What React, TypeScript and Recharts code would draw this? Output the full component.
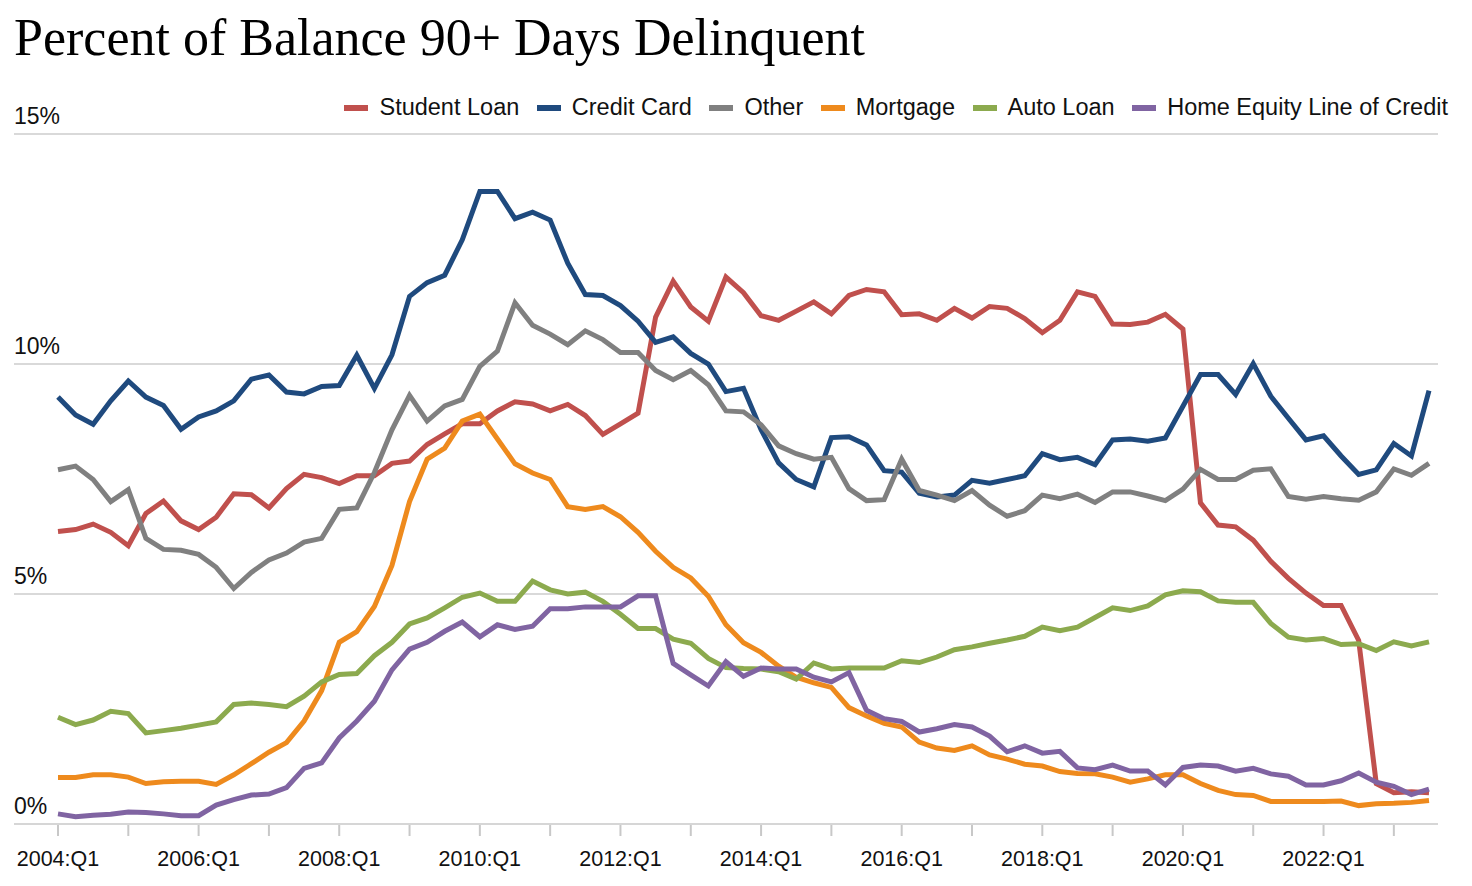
import React from 'react';
import { LineChart, Line, XAxis, YAxis, CartesianGrid } from 'recharts';

// Categories: 2004:Q1 .. 2023:Q3
const allQuarters: string[] = [];
for (let y = 2004; y <= 2023; y++) {
  for (let q = 1; q <= 4; q++) allQuarters.push(`${y}:Q${q}`);
}
const quarters = allQuarters.slice(0, 79);

const tickQuarters = quarters.filter((q) => q.endsWith(':Q1'));
const xLabels = ['2004:Q1', '2006:Q1', '2008:Q1', '2010:Q1', '2012:Q1', '2014:Q1', '2016:Q1', '2018:Q1', '2020:Q1', '2022:Q1'];
const yTicks = [0, 5, 10, 15];

const studentLoan = [
  6.36, 6.40, 6.52, 6.34, 6.05, 6.75, 7.02, 6.59, 6.40, 6.67,
  7.18, 7.16, 6.87, 7.29, 7.60, 7.53, 7.40, 7.57, 7.57, 7.84,
  7.89, 8.25, 8.48, 8.70, 8.70, 8.98, 9.18, 9.13, 8.98, 9.12,
  8.88, 8.47, 8.70, 8.93, 11.02, 11.80, 11.24, 10.93, 11.89, 11.55,
  11.05, 10.95, 11.15, 11.35, 11.09, 11.49, 11.62, 11.57, 11.07, 11.09,
  10.95, 11.21, 11.00, 11.25, 11.21, 10.99, 10.68, 10.95, 11.57, 11.47,
  10.87, 10.86, 10.91, 11.08, 10.76, 6.98, 6.50, 6.46, 6.17, 5.71,
  5.34, 5.02, 4.75, 4.75, 3.99, 0.88, 0.68, 0.70, 0.68,
];

const creditCard = [
  9.28, 8.89, 8.69, 9.20, 9.63, 9.28, 9.10, 8.58, 8.85, 8.98,
  9.20, 9.67, 9.76, 9.39, 9.35, 9.51, 9.53, 10.19, 9.47, 10.20,
  11.47, 11.77, 11.93, 12.70, 13.75, 13.75, 13.16, 13.30, 13.13, 12.19,
  11.51, 11.49, 11.27, 10.93, 10.47, 10.59, 10.23, 10.00, 9.40, 9.47,
  8.57, 7.85, 7.49, 7.33, 8.40, 8.42, 8.24, 7.68, 7.65, 7.19,
  7.11, 7.15, 7.47, 7.41, 7.49, 7.57, 8.05, 7.92, 7.97, 7.81,
  8.35, 8.37, 8.32, 8.39, 9.08, 9.77, 9.77, 9.34, 10.01, 9.30,
  8.82, 8.35, 8.44, 8.00, 7.60, 7.70, 8.27, 8.00, 9.42,
];

const other = [
  7.70, 7.78, 7.49, 7.01, 7.27, 6.21, 5.97, 5.95, 5.86, 5.58,
  5.12, 5.47, 5.74, 5.89, 6.13, 6.21, 6.84, 6.87, 7.64, 8.57,
  9.32, 8.76, 9.09, 9.23, 9.95, 10.28, 11.33, 10.84, 10.65, 10.42,
  10.72, 10.53, 10.25, 10.25, 9.86, 9.66, 9.86, 9.55, 8.98, 8.96,
  8.68, 8.22, 8.05, 7.93, 7.97, 7.29, 7.03, 7.05, 7.93, 7.25,
  7.15, 7.03, 7.25, 6.93, 6.69, 6.81, 7.15, 7.07, 7.17, 6.99,
  7.22, 7.22, 7.13, 7.03, 7.28, 7.71, 7.49, 7.49, 7.69, 7.72,
  7.12, 7.06, 7.12, 7.07, 7.04, 7.22, 7.72, 7.58, 7.84,
];

const mortgage = [
  1.01, 1.01, 1.07, 1.07, 1.02, 0.88, 0.92, 0.93, 0.93, 0.86,
  1.07, 1.31, 1.56, 1.77, 2.24, 2.90, 3.95, 4.18, 4.73, 5.62,
  7.01, 7.93, 8.17, 8.76, 8.91, 8.37, 7.83, 7.63, 7.49, 6.90,
  6.84, 6.90, 6.68, 6.34, 5.93, 5.58, 5.35, 4.95, 4.33, 3.94,
  3.73, 3.43, 3.19, 3.07, 2.97, 2.53, 2.35, 2.19, 2.11, 1.78,
  1.65, 1.60, 1.70, 1.50, 1.41, 1.30, 1.26, 1.14, 1.10, 1.09,
  1.02, 0.91, 0.98, 1.07, 1.07, 0.88, 0.73, 0.64, 0.62, 0.49,
  0.49, 0.49, 0.49, 0.50, 0.40, 0.44, 0.45, 0.47, 0.51,
];

const autoLoan = [
  2.32, 2.16, 2.26, 2.45, 2.40, 1.98, 2.03, 2.08, 2.15, 2.22,
  2.60, 2.63, 2.60, 2.55, 2.78, 3.09, 3.25, 3.27, 3.66, 3.95,
  4.35, 4.48, 4.70, 4.93, 5.02, 4.84, 4.84, 5.28, 5.09, 5.00,
  5.04, 4.84, 4.56, 4.25, 4.25, 4.02, 3.93, 3.60, 3.40, 3.38,
  3.37, 3.31, 3.15, 3.50, 3.37, 3.39, 3.39, 3.39, 3.55, 3.51,
  3.63, 3.79, 3.85, 3.93, 4.00, 4.08, 4.28, 4.20, 4.28, 4.49,
  4.70, 4.64, 4.74, 4.98, 5.07, 5.05, 4.85, 4.82, 4.82, 4.36,
  4.06, 4.00, 4.03, 3.90, 3.92, 3.77, 3.96, 3.87, 3.96,
];

const heloc = [
  0.22, 0.16, 0.19, 0.21, 0.26, 0.25, 0.22, 0.18, 0.18, 0.41,
  0.53, 0.63, 0.65, 0.79, 1.21, 1.33, 1.87, 2.24, 2.67, 3.35,
  3.80, 3.95, 4.19, 4.39, 4.07, 4.33, 4.23, 4.30, 4.68, 4.68,
  4.72, 4.72, 4.72, 4.96, 4.96, 3.49, 3.24, 3.00, 3.53, 3.21,
  3.39, 3.37, 3.37, 3.19, 3.09, 3.29, 2.47, 2.29, 2.23, 2.00,
  2.07, 2.16, 2.11, 1.91, 1.57, 1.70, 1.54, 1.58, 1.22, 1.18,
  1.28, 1.15, 1.15, 0.85, 1.23, 1.28, 1.26, 1.15, 1.21, 1.09,
  1.04, 0.85, 0.85, 0.94, 1.11, 0.91, 0.82, 0.64, 0.76,
];

const seriesNames = ['Student Loan', 'Credit Card', 'Other', 'Mortgage', 'Auto Loan', 'Home Equity Line of Credit'];
const seriesKeys = ['studentLoan', 'creditCard', 'other', 'mortgage', 'autoLoan', 'heloc'];
const seriesColors = ['#C0504D', '#1F4A7E', '#808080', '#EE8A1D', '#8CAA4E', '#8064A2'];

const data = quarters.map((q, i) => ({
  q,
  studentLoan: studentLoan[i],
  creditCard: creditCard[i],
  other: other[i],
  mortgage: mortgage[i],
  autoLoan: autoLoan[i],
  heloc: heloc[i],
}));

const W = 1472;
const H = 886;
const AXIS_Y = 824;

const XTick = (props: any) => {
  const { x, payload } = props;
  const show = xLabels.includes(payload.value);
  return (
    <g>
      <line x1={x} x2={x} y1={AXIS_Y + 1} y2={AXIS_Y + 12} stroke="#c8c8c8" strokeWidth={2} />
      {show && (
        <text
          x={x}
          y={866}
          textAnchor="middle"
          fontFamily="'Liberation Sans', Arial, sans-serif"
          fontSize={21.5}
          fill="#111"
        >
          {payload.value}
        </text>
      )}
    </g>
  );
};

const YTick = (props: any) => {
  const { y, payload } = props;
  return (
    <text
      x={14}
      y={y - 10}
      textAnchor="start"
      fontFamily="'Liberation Sans', Arial, sans-serif"
      fontSize={23}
      fill="#111"
    >
      {`${payload.value}%`}
    </text>
  );
};

export default function App() {
  return (
    <div style={{ position: 'absolute', left: 0, top: 0, width: W, height: H, background: '#fff', overflow: 'hidden' }}>
      <LineChart width={W} height={H} data={data} margin={{ top: 134, right: 34, left: 0, bottom: 0 }}>
        <CartesianGrid vertical={false} stroke="#d9d9d9" strokeWidth={2} />
        <XAxis
          dataKey="q"
          ticks={tickQuarters}
          interval={0}
          tick={(p: any) => <XTick {...p} />}
          tickLine={false}
          axisLine={{ stroke: '#d6d6d6', strokeWidth: 2 }}
          padding={{ left: 44, right: 9 }}
          height={62}
        />
        <YAxis
          domain={[0, 15]}
          ticks={yTicks}
          width={14}
          interval={0}
          axisLine={false}
          tickLine={false}
          tick={(p: any) => <YTick {...p} />}
        />
        {seriesKeys.map((k, i) => (
          <Line
            key={k}
            type="linear"
            dataKey={k}
            name={seriesNames[i]}
            stroke={seriesColors[i]}
            strokeWidth={5}
            dot={false}
            activeDot={false}
            isAnimationActive={false}
          />
        ))}
      </LineChart>
      <div
        style={{
          position: 'absolute',
          left: 14,
          top: 12,
          fontFamily: "'Liberation Serif', 'Times New Roman', serif",
          fontSize: 52,
          lineHeight: '52px',
          whiteSpace: 'nowrap',
          color: '#000',
        }}
      >
        Percent of Balance 90+ Days Delinquent
      </div>
      <div
        style={{
          position: 'absolute',
          right: 24,
          top: 96,
          display: 'flex',
          alignItems: 'center',
          fontFamily: "'Liberation Sans', Arial, sans-serif",
          fontSize: 23.5,
          lineHeight: 1,
          whiteSpace: 'nowrap',
          color: '#111',
        }}
      >
        {seriesNames.map((n, i) => (
          <div key={n} style={{ display: 'flex', alignItems: 'center', marginLeft: i === 0 ? 0 : 17.5 }}>
            <span style={{ display: 'inline-block', width: 24, height: 6, background: seriesColors[i], marginRight: 11 }} />
            <span>{n}</span>
          </div>
        ))}
      </div>
    </div>
  );
}
